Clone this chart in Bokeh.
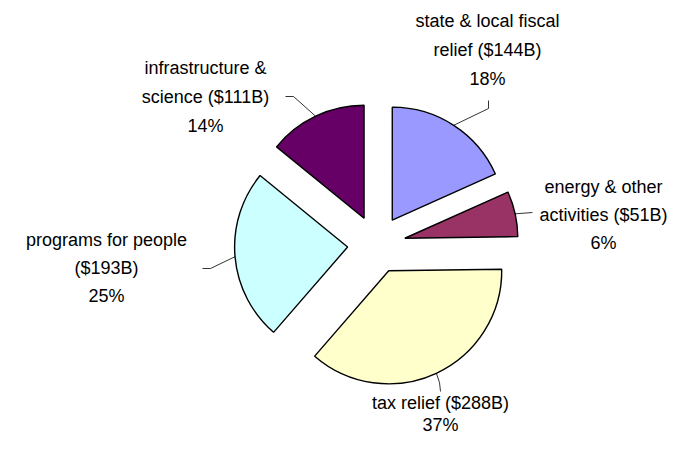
import math
from bokeh.plotting import figure
from bokeh.models import Range1d, ColumnDataSource
from bokeh.core.properties import value
from bokeh.embed import file_html
from bokeh.resources import INLINE

# ---- data ----
categories = ["state & local fiscal relief", "energy & other activities",
              "tax relief", "programs for people", "infrastructure & science"]
amounts = [144, 51, 288, 193, 111]  # $B
label_lines = [
    ["state & local fiscal", "relief ($144B)"],
    ["energy & other", "activities ($51B)"],
    ["tax relief ($288B)"],
    ["programs for people", "($193B)"],
    ["infrastructure &", "science ($111B)"],
]
colors = ["#9999FF", "#993366", "#FFFFCC", "#CCFFFF", "#660066"]

# ---- layout ----
W, H = 672, 437
CX, CY = 376, 193          # pie centre (data units = pixels)
R = 113                    # radius
EXPLODE = 29               # explode distance
FONT = "Liberation Sans"
FS = "18px"

def sx(x):  # screen -> data
    return x
def sy(y):
    return H - y

# label first-line centre (screen coords), line spacing, leader elbow/end points (screen)
label_pos = [(487, 20), (603, 186), (440, 402), (106, 239), (205, 67)]
line_h = [29, 28, 22, 28, 29]
leader_pts = [
    [(488, 108), (488, 100)],
    [(532, 212)],
    [(439, 382), (440, 391)],
    [(210, 268), (202, 268)],
    [(293, 96), (285, 96)],
]

p = figure(width=W, height=H, output_backend="svg", toolbar_location=None,
           x_range=Range1d(0, W), y_range=Range1d(0, H),
           x_axis_location=None, y_axis_location=None, min_border=0)
p.outline_line_color = None
p.grid.visible = False
p.background_fill_color = "white"
p.border_fill_color = "white"

total = sum(amounts)
cum = 0.0
xs, ys, starts, ends = [], [], [], []
arc_pts = []
for v in amounts:
    a0 = cum / total * 2 * math.pi
    cum += v
    a1 = cum / total * 2 * math.pi
    m = (a0 + a1) / 2
    ax = CX + EXPLODE * math.sin(m)
    ay = CY + EXPLODE * math.cos(m)
    xs.append(ax); ys.append(ay)
    starts.append(math.pi / 2 - a1)
    ends.append(math.pi / 2 - a0)
    arc_pts.append((ax + R * math.sin(m), ay + R * math.cos(m)))

src = ColumnDataSource(dict(x=xs, y=ys, start=starts, end=ends, color=colors))
p.wedge(x="x", y="y", radius=R, start_angle="start", end_angle="end",
        fill_color="color", line_color="black", line_width=1.4, source=src)

# leader lines
for (px0, py0), pts in zip(arc_pts, leader_pts):
    lx = [px0] + [sx(a) for a, b in pts]
    ly = [py0] + [sy(b) for a, b in pts]
    p.line(lx, ly, line_color="black", line_width=0.8)

# labels
tx, ty, tt = [], [], []
for lines, v, (lx, ly), lh in zip(label_lines, amounts, label_pos, line_h):
    allines = lines + [f"{round(v / total * 100)}%"]
    for i, s in enumerate(allines):
        tx.append(sx(lx)); ty.append(sy(ly + i * lh)); tt.append(s)
p.text(x=tx, y=ty, text=tt, text_font=value(FONT), text_font_size=FS,
       text_align="center", text_baseline="middle", text_color="black")

open("out.html", "w").write(file_html(p, INLINE))
